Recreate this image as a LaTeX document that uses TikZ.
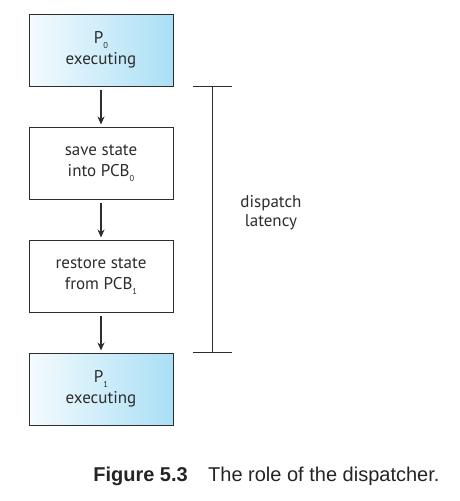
\documentclass[tikz,border=0pt]{standalone}
\usepackage{fontspec}
\usepackage{tikz}
\usetikzlibrary{arrows.meta,positioning,calc}

\newfontfamily\boxfont{PT Sans}
\newfontfamily\capfont{Liberation Sans}
\definecolor{boxgray}{RGB}{45,45,45}
\definecolor{runblue}{RGB}{170,223,245}
\definecolor{runwhite}{RGB}{244,251,254}
\newcommand{\lowsub}[1]{\raisebox{-0.55ex}{\fontsize{8.5}{8.5}\selectfont #1}}

\begin{document}
\begin{tikzpicture}[
    x=1pt, y=1pt,
    >={Stealth[length=8pt,width=7pt]},
    proc/.style={
        rectangle,
        draw=boxgray,
        line width=1pt,
        fill=white,
        minimum width=144pt,
        minimum height=72pt,
        font=\boxfont\fontsize{17}{21}\selectfont,
        text=boxgray,
        align=center
    },
    running/.style={
        proc,
        left color=runwhite,
        right color=runblue
    },
    flow/.style={->, line width=1.2pt, boxgray, shorten <=3pt, shorten >=2pt},
    bracket/.style={line width=1pt, boxgray}
]
\useasboundingbox (0,0) rectangle (460,-501);

% process boxes, top to bottom
\node[running] (p0)      at (101,-50)  {P\lowsub{0}\\executing};
\node[proc]    (save)    at (101,-163) {save state\\into PCB\lowsub{0}};
\node[proc]    (restore) at (101,-276) {restore state\\from PCB\lowsub{1}};
\node[running] (p1)      at (101,-389) {P\lowsub{1}\\executing};

% arrows between the boxes
\draw[flow] (p0.south) -- (save.north);
\draw[flow] (save.south) -- (restore.north);
\draw[flow] (restore.south) -- (p1.north);

% latency bracket
\coordinate (ltop) at ($(p0.south east)+(39,0)$);
\coordinate (lbot) at ($(p1.north east)+(39,0)$);
\draw[bracket] (ltop) -- (lbot);
\draw[bracket] ($(ltop)+(-20,0)$) -- ($(ltop)+(19,0)$);
\draw[bracket] ($(lbot)+(-20,0)$) -- ($(lbot)+(19,0)$);
\node[font=\boxfont\fontsize{17}{19}\selectfont, text=boxgray, align=center] (latency) at (271,-213) {dispatch\\latency};

% caption
\node[font=\capfont\bfseries\fontsize{20}{22}\selectfont, text=boxgray!80!black, anchor=base east, inner sep=0pt] (figno) at (188,-481) {Figure 5.3};
\node[font=\capfont\fontsize{20}{22}\selectfont, text=boxgray!80!black, anchor=base west, inner sep=0pt] (figcap) at (208,-481) {The role of the dispatcher.};

\end{tikzpicture}
\end{document}
